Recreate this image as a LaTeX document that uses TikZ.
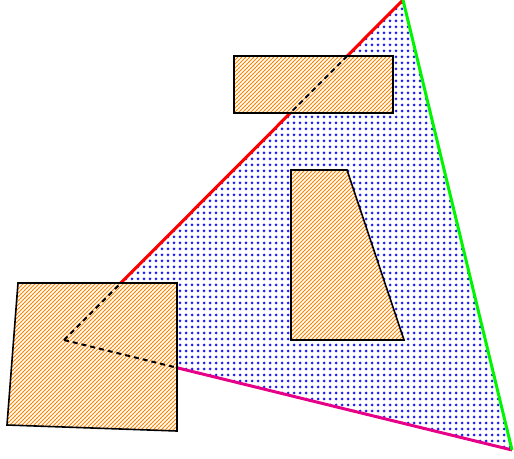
\documentclass[tikz,border=0pt]{standalone}
\usetikzlibrary{patterns.meta}
\definecolor{dotblue}{RGB}{30,30,250}
\definecolor{hatchorange}{RGB}{255,135,0}
\definecolor{sidered}{RGB}{255,0,0}
\definecolor{sidegreen}{RGB}{0,245,0}
\definecolor{sidemagenta}{RGB}{230,0,135}

\begin{document}
\begin{tikzpicture}[
    x=0.5bp, y=-0.5bp,
    region/.style={pattern={Dots[distance=3bp, radius=0.75bp]}, pattern color=dotblue},
    block/.style={preaction={fill=white}, draw=black, line width=0.8bp,
                  pattern={Lines[angle=45, distance=1.41421bp, line width=0.42bp]},
                  pattern color=hatchorange},
    side/.style={line width=1.5bp},
    hidden/.style={draw=black, line width=1bp, dash pattern=on 2.5bp off 2bp}
]
\useasboundingbox (0,0) rectangle (514,459);

\coordinate (apex) at (403,0);
\coordinate (tip) at (512,450);
\coordinate (corner) at (64,340);

% dotted triangle and its sides
\path[region] (corner) -- (apex) -- (tip) -- cycle;
\draw[side, sidered] (corner) -- (apex);
\draw[side, sidemagenta] (tip) -- (corner);
\draw[side, sidegreen] (apex) -- (tip);

% hatched blocks
\path[block] (234,56) rectangle (393,113);
\path[block] (291,170) -- (347,170) -- (404,340) -- (291,340) -- cycle;
\path[block] (18,283) -- (177,283) -- (177,431) -- (7,425) -- cycle;

% hidden parts of the sides
\begin{scope}
  \clip (234,56) rectangle (393,113);
  \draw[hidden] (corner) -- (apex);
\end{scope}
\begin{scope}
  \clip (18,283) -- (177,283) -- (177,431) -- (7,425) -- cycle;
  \draw[hidden] (corner) -- (apex);
  \draw[hidden] (corner) -- (tip);
\end{scope}
\end{tikzpicture}
\end{document}
